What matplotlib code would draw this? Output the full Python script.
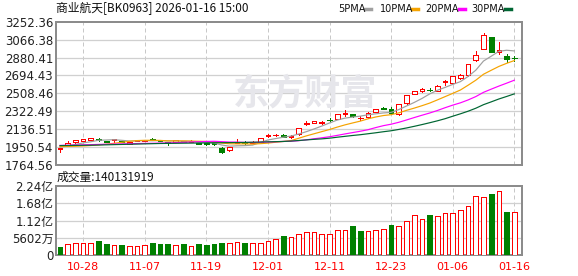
import matplotlib
matplotlib.use('Agg')
import matplotlib.pyplot as plt
import numpy as np

plt.rcParams['font.family'] = ['DejaVu Sans', 'Noto Sans CJK SC']

# ---- 数据 ----
title = '商业航天[BK0963] 2026-01-16 15:00'
tick_idx = [3, 11, 19, 27, 35, 43, 51, 59]
tick_labels = ['10-28', '11-07', '11-19', '12-01', '12-11', '12-23', '01-06', '01-16']

opens = [1931, 1972, 2008, 2018, 2026, 2034, 2016, 2021, 2016, 1982,
         2014, 2018, 2034, 2022, 2003, 2006, 2012, 2004, 1992, 1990,
         2000, 1938, 1917, 1990, 2008, 1996, 2006, 2066, 2074, 2076,
         2052, 2083, 2187, 2200, 2198, 2234, 2245, 2291, 2294, 2252,
         2260, 2318, 2354, 2346, 2291, 2405, 2502, 2530, 2548, 2536,
         2628, 2616, 2668, 2696, 2852, 2972, 3093, 2935, 2899, 2878]
highs = [1946, 2013, 2026, 2036, 2045, 2042, 2018, 2036, 2018, 2005,
         2026, 2026, 2040, 2026, 2005, 2026, 2016, 2020, 1996, 1992,
         2005, 1948, 1956, 2037, 2010, 2012, 2044, 2090, 2090, 2082,
         2072, 2150, 2224, 2222, 2222, 2250, 2296, 2335, 2296, 2275,
         2320, 2350, 2362, 2370, 2400, 2490, 2532, 2560, 2566, 2592,
         2650, 2688, 2710, 2815, 2951, 3138, 3096, 3038, 2920, 2899]
lows = [1902, 1968, 1990, 2012, 2020, 2018, 2002, 2000, 2003, 1978,
        2010, 2014, 2020, 2012, 1972, 2004, 2004, 2000, 1982, 1968,
        1975, 1886, 1912, 1988, 1986, 1990, 2003, 2055, 2064, 2052,
        2048, 2080, 2185, 2196, 2190, 2215, 2240, 2275, 2262, 2236,
        2255, 2318, 2345, 2290, 2288, 2400, 2498, 2526, 2530, 2532,
        2598, 2612, 2662, 2690, 2848, 2968, 2935, 2917, 2831, 2841]
closes = [1944, 1990, 2022, 2032, 2040, 2021, 2006, 2034, 2006, 2003,
          2024, 2022, 2024, 2016, 1990, 2024, 2008, 2015, 1985, 1979,
          1980, 1902, 1954, 2003, 1990, 2006, 2042, 2079, 2078, 2058,
          2069, 2145, 2204, 2218, 2208, 2230, 2294, 2307, 2273, 2256,
          2301, 2343, 2350, 2307, 2398, 2488, 2529, 2553, 2544, 2588,
          2636, 2685, 2699, 2813, 2910, 3111, 2938, 2955, 2868, 2873]

ma5 = [1950, 1962, 1978, 1994, 2006, 2021, 2024, 2027, 2021, 2014,
       2015, 2018, 2016, 2018, 2015, 2015, 2012, 2011, 2004, 2002,
       1993, 1972, 1960, 1964, 1966, 1971, 1999, 2024, 2039, 2053,
       2065, 2086, 2111, 2139, 2169, 2201, 2231, 2251, 2262, 2272,
       2286, 2296, 2305, 2311, 2340, 2377, 2414, 2455, 2502, 2540,
       2570, 2601, 2630, 2684, 2749, 2844, 2894, 2945, 2956, 2949]
ma10 = [1956, 1957, 1959, 1962, 1967, 1973, 1980, 1990, 2000, 2010,
        2018, 2021, 2021, 2020, 2015, 2015, 2015, 2013, 2011, 2009,
        2004, 1992, 1985, 1984, 1984, 1982, 1986, 1992, 2001, 2009,
        2018, 2042, 2067, 2089, 2111, 2133, 2158, 2181, 2201, 2220,
        2244, 2263, 2278, 2287, 2306, 2332, 2355, 2380, 2407, 2440,
        2474, 2508, 2543, 2593, 2645, 2707, 2748, 2788, 2820, 2849]
ma20 = [1968, 1970, 1972, 1974, 1976, 1978, 1980, 1982, 1984, 1985,
        1987, 1989, 1990, 1992, 1994, 1996, 1999, 2003, 2006, 2009,
        2011, 2007, 2003, 2002, 1999, 1999, 2000, 2003, 2006, 2009,
        2011, 2017, 2026, 2037, 2047, 2058, 2072, 2087, 2101, 2115,
        2131, 2153, 2173, 2188, 2208, 2232, 2257, 2281, 2304, 2330,
        2359, 2386, 2410, 2440, 2475, 2519, 2552, 2584, 2614, 2645]
ma30 = [1966, 1967, 1968, 1969, 1970, 1972, 1974, 1976, 1978, 1980,
        1982, 1984, 1986, 1988, 1989, 1990, 1991, 1992, 1993, 1994,
        1995, 1996, 1997, 1998, 1999, 2001, 2003, 2005, 2007, 2009,
        2013, 2019, 2025, 2031, 2036, 2043, 2053, 2062, 2071, 2079,
        2089, 2099, 2110, 2120, 2134, 2149, 2166, 2184, 2203, 2223,
        2245, 2271, 2296, 2323, 2354, 2391, 2420, 2450, 2476, 2503]

# 成交量（亿）
volume = [0.251, 0.372, 0.404, 0.382, 0.404, 0.448, 0.350, 0.339, 0.317, 0.306,
          0.306, 0.339, 0.382, 0.350, 0.350, 0.339, 0.350, 0.306, 0.350, 0.317,
          0.350, 0.382, 0.404, 0.437, 0.404, 0.404, 0.404, 0.470, 0.535, 0.612,
          0.601, 0.699, 0.765, 0.765, 0.699, 0.699, 0.830, 0.830, 0.940, 0.776,
          0.798, 0.830, 0.863, 0.972, 0.962, 1.125, 1.289, 1.158, 1.300, 1.257,
          1.355, 1.355, 1.453, 1.584, 1.912, 1.879, 1.989, 2.076, 1.410, 1.40131919]
# 1 = 红(涨), 0 = 绿(跌)
vol_up = [0, 1, 1, 1, 1, 0, 0, 1, 0, 1,
          1, 1, 0, 0, 0, 1, 0, 1, 0, 0,
          0, 0, 1, 1, 0, 1, 1, 1, 1, 0,
          1, 1, 1, 1, 1, 1, 1, 1, 0, 0,
          1, 1, 1, 0, 1, 1, 1, 1, 0, 1,
          1, 1, 1, 1, 1, 1, 0, 1, 0, 1]

price_ticks = [1764.56, 1950.54, 2136.51, 2322.49, 2508.46, 2694.43, 2880.41, 3066.38, 3252.36]
vol_ticks = [0, 0.5602, 1.1204, 1.6806, 2.2408]
vol_tick_labels = ['0', '5602万', '1.12亿', '1.68亿', '2.24亿']

RED = '#ff0000'
GREEN = '#008000'
MA_COLORS = ['#a0a0a0', '#f5a300', '#ff00ff', '#006633']
MA_NAMES = ['5PMA', '10PMA', '20PMA', '30PMA']
PX = 0.72  # 1 像素对应的线宽(pt)

W, H = 578, 276
fig = plt.figure(figsize=(W / 100, H / 100), dpi=100)
fig.patch.set_facecolor('white')

def fx(px):
    return px / W

def fy(py):
    return 1 - py / H

ax = fig.add_axes([fx(56), fy(165), fx(522) - fx(56), fy(21.7) - fy(165)])
axv = fig.add_axes([fx(56), fy(255), fx(522) - fx(56), fy(186.3) - fy(255)])

x = np.arange(len(closes))
o = np.array(opens); c = np.array(closes)
h = np.array(highs); l = np.array(lows)
up = c >= o

for a in (ax, axv):
    a.set_xlim(-0.52, 60.0)
    for s in a.spines.values():
        s.set_color('#8c8c8c')
        s.set_linewidth(2 * PX)
    a.tick_params(length=0)
    for t in tick_idx:
        a.axvline(t, color='#c8c8c8', lw=PX, ls=(0, (4, 3)), zorder=0)

# ---- K线 ----
ax.set_ylim(price_ticks[0], price_ticks[-1])
for yv in price_ticks[1:-1]:
    ax.axhline(yv, color='#d0d0d0', lw=PX * 1.3, zorder=0)

ax.text(0.534, 0.495, '东方财富', transform=ax.transAxes, ha='center', va='center',
        fontsize=26, fontweight='bold', color='#e6e6eb', family='Noto Sans CJK SC', zorder=0.5)

cols = np.where(up, RED, GREEN)
ax.vlines(x, l, h, colors=cols, lw=PX, zorder=2, antialiased=False)
body_h = np.maximum(np.abs(c - o), 1.5)
ax.bar(x[up], body_h[up], bottom=np.minimum(o, c)[up], width=0.6,
       facecolor='white', edgecolor=RED, lw=PX, zorder=3, antialiased=False)
ax.bar(x[~up], body_h[~up], bottom=np.minimum(o, c)[~up], width=0.6,
       facecolor=GREEN, edgecolor=GREEN, lw=PX, zorder=3, antialiased=False)

for ma, col in zip([ma5, ma10, ma20, ma30], MA_COLORS):
    ax.plot(x, ma, color=col, lw=PX * 1.2, zorder=4)

ax.set_xticks([])
ax.set_yticks(price_ticks)
ax.set_yticklabels([f'{v:.2f}' for v in price_ticks], fontsize=8.5, color='#222222')
ax.tick_params(axis='y', pad=2)

# ---- 成交量 ----
vu = np.array(vol_up, dtype=bool)
vol = np.array(volume)
axv.set_ylim(0, 2.2408)
for yv in vol_ticks[1:-1]:
    axv.axhline(yv, color='#d0d0d0', lw=PX * 1.3, zorder=0)
axv.bar(x[vu], vol[vu], width=0.6, facecolor='white', edgecolor=RED, lw=PX,
        zorder=3, antialiased=False)
axv.bar(x[~vu], vol[~vu], width=0.6, facecolor=GREEN, edgecolor=GREEN, lw=PX,
        zorder=3, antialiased=False)
axv.set_yticks(vol_ticks)
axv.set_yticklabels(vol_tick_labels, fontsize=8.5, color='#222222')
axv.tick_params(axis='y', pad=2)
axv.set_xticks(tick_idx)
axv.set_xticklabels(tick_labels, fontsize=8, color=RED)
axv.tick_params(axis='x', pad=5)

# ---- 文字 ----
fig.text(fx(56), fy(8), title, fontsize=8.5, va='center', ha='left',
         family='Noto Sans CJK SC', color='#111111')
fig.text(fx(57), fy(177), '成交量:140131919', fontsize=8.5, va='center', ha='left',
         family='Noto Sans CJK SC', color='#111111')

leg_x = [338, 380, 425, 471]
dash_x = [365, 412, 459, 505]
for name, col, lx, dx in zip(MA_NAMES, MA_COLORS, leg_x, dash_x):
    fig.text(fx(lx), fy(9), name, fontsize=7, va='center', ha='left', color='#111111')
    fig.add_artist(plt.Line2D([fx(dx), fx(dx + 6)], [fy(9), fy(9)], color=col, lw=2.5,
                              transform=fig.transFigure))

fig.savefig('out.png', dpi=100)
